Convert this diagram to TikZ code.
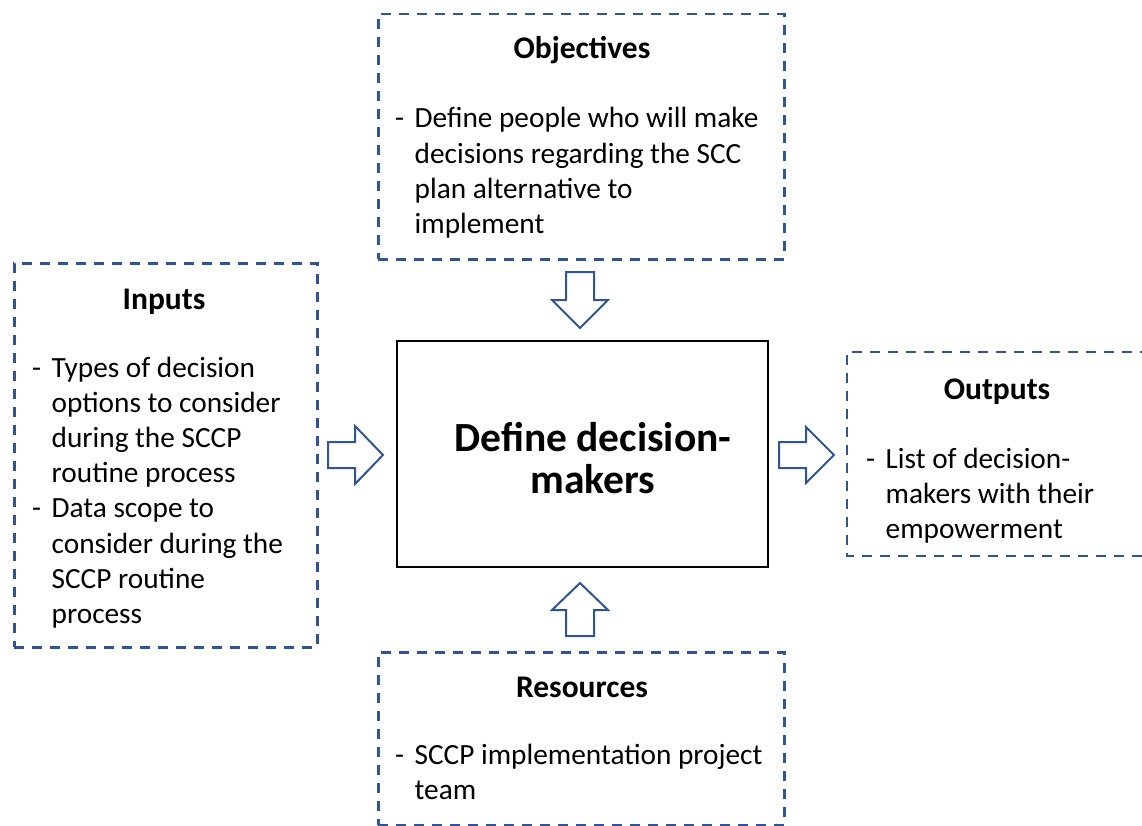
\documentclass[tikz,border=0pt]{standalone}
\usepackage{fontspec}
\setmainfont{Carlito}
\definecolor{dblue}{HTML}{2F5597}
\tikzset{
  dbox/.style={draw=dblue, line width=2.5pt, dash pattern=on 10pt off 8pt},
  mainbox/.style={draw=black, line width=2pt},
  blockarrow/.style={draw=dblue, line width=2pt, fill=white, line join=miter},
  title/.style={font=\fontsize{31.5}{36}\selectfont\bfseries, anchor=base},
  bullets/.style={font=\fontsize{29.3}{35.2}\selectfont, anchor=base west, inner sep=0pt},
}
\begin{document}
\begin{tikzpicture}[x=1pt,y=-1pt]
\useasboundingbox (0,0) rectangle (1142,826);
% boxes
\node[dbox, minimum width=406pt, minimum height=245pt, anchor=north west] (obj) at (377,13) {};
\node[dbox, minimum width=303pt, minimum height=384pt, anchor=north west] (inp) at (13,262) {};
\node[dbox, minimum width=406pt, minimum height=173pt, anchor=north west] (res) at (377,651) {};
\draw[dbox] (1150,352) -- (847,352) -- (847,556) -- (1150,556);
\node[mainbox, minimum width=371pt, minimum height=226pt, anchor=north west] (main) at (396,340) {};
% titles
\node[title] (objt) at (582,59) {Objectives};
\node[title] (inpt) at (164,309) {Inputs};
\node[title] (outt) at (997,399) {Outputs};
\node[title] (rest) at (582,697) {Resources};
% main text
\node[font=\fontsize{41.5}{42}\selectfont\bfseries, align=center] (maint) at (593,458) {Define decision-\\makers};
% bullets
\node[bullets] (objb) at (395,128) {\begin{tabular}[t]{@{}l@{\hspace{10.5pt}}l@{}}
- & Define people who will make\\
  & decisions regarding the SCC\\
  & plan alternative to\\
  & implement
\end{tabular}};
\node[bullets] (inpb) at (32,377) {\begin{tabular}[t]{@{}l@{\hspace{10.5pt}}l@{}}
- & Types of decision\\
  & options to consider\\
  & during the SCCP\\
  & routine process\\
- & Data scope to\\
  & consider during the\\
  & SCCP routine\\
  & process
\end{tabular}};
\node[bullets] (outb) at (866,468) {\begin{tabular}[t]{@{}l@{\hspace{10.5pt}}l@{}}
- & List of decision-\\
  & makers with their\\
  & empowerment
\end{tabular}};
\node[bullets] (resb) at (395,764) {\begin{tabular}[t]{@{}l@{\hspace{10.5pt}}l@{}}
- & SCCP implementation project\\
  & team
\end{tabular}};
% block arrows
\draw[blockarrow] (566,272) -- (594,272) -- (594,300) -- (608,300) -- (580,328) -- (552,300) -- (566,300) -- cycle;
\draw[blockarrow] (566,636) -- (594,636) -- (594,610) -- (608,610) -- (580,583) -- (552,610) -- (566,610) -- cycle;
\draw[blockarrow] (328,442) -- (355,442) -- (355,426) -- (383,455) -- (355,484) -- (355,468) -- (328,468) -- cycle;
\draw[blockarrow] (779,442) -- (806,442) -- (806,427) -- (834,455) -- (806,483) -- (806,468) -- (779,468) -- cycle;
\end{tikzpicture}
\end{document}
